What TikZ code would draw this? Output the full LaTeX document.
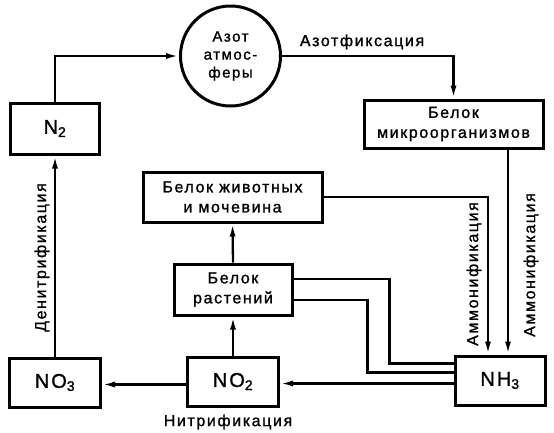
\documentclass[tikz,border=0pt]{standalone}
\usepackage{fontspec}
\setmainfont{Liberation Sans}[LetterSpace=10,FakeBold=1.2]
\usetikzlibrary{arrows.meta}

\begin{document}
\begin{tikzpicture}[x=1pt,y=-1pt,
    box/.style={draw,line width=3pt,align=center,inner sep=0pt},
    flow/.style={line width=2.3pt,-{Latex[length=13pt,width=6pt]}},
    link/.style={line width=2.3pt},
    chem/.style={font=\fontsize{20}{24}\selectfont}]
    \useasboundingbox (0,0) rectangle (554,432);
    \fontsize{16}{20}\selectfont
    \draw (55,128.5) node(n2) [box,chem,minimum width=89pt,minimum height=51pt] {N\textsubscript{2}}
        (230.5,56) node(atm) [box,circle,minimum size=100pt,font=\fontsize{15}{18}\selectfont] {Азот\\атмос-\\феры}
        (453.5,124) node(micro) [box,minimum width=179pt,minimum height=48pt] {Белок\\микроорганизмов}
        (232.5,197) node(animal) [box,minimum width=179pt,minimum height=50pt] {Белок животных\\и мочевина}
        (233,289.5) node(plant) [box,minimum width=118pt,minimum height=51pt] {Белок\\растений}
        (233,381.5) node(no2) [box,chem,minimum width=91pt,minimum height=49pt] {NO\textsubscript{2}}
        (55,382.5) node(no3) [box,chem,minimum width=91pt,minimum height=49pt] {NO\textsubscript{3}}
        (500,380.5) node(nh3) [box,chem,minimum width=90pt,minimum height=49pt] {NH\textsubscript{3}};
    \draw (362,42) node(fix) {Азотфиксация}
        (42,257.5) node(denit) [rotate=90] {Денитрификация}
        (474,274) node(ammo1) [rotate=90] {Аммонификация}
        (531,265) node(ammo2) [rotate=90] {Аммонификация}
        (228,422) node(nitr) {Нитрификация};
    \draw[flow] (no3.north) -- (n2.south);
    \draw[flow] (n2.north) |- (atm.west);
    \draw[flow] (atm.east) -| (micro.north);
    \draw[flow] ([xshift=8pt]nh3.north |- micro.south) -- ([xshift=8pt]nh3.north);
    \draw[flow] (animal.east) -| ([xshift=-12pt]nh3.north);
    \draw[flow] (plant.north) -- (animal.south);
    \draw[flow] (no2.north) -- (plant.south);
    \draw[flow] ([yshift=-3pt]nh3.west) -- ([yshift=-3pt]nh3.west -| no2.east);
    \draw[flow] ([yshift=-3pt]no2.west) -- ([yshift=-3pt]no2.west -| no3.east);
    \draw[link] ([yshift=10.5pt]plant.east) -- ++(96,0) |- ([yshift=17pt]nh3.west);
    \draw[link] ([yshift=-10.5pt]plant.east) -- ++(74,0) |- ([yshift=8pt]nh3.west);
\end{tikzpicture}
\end{document}
